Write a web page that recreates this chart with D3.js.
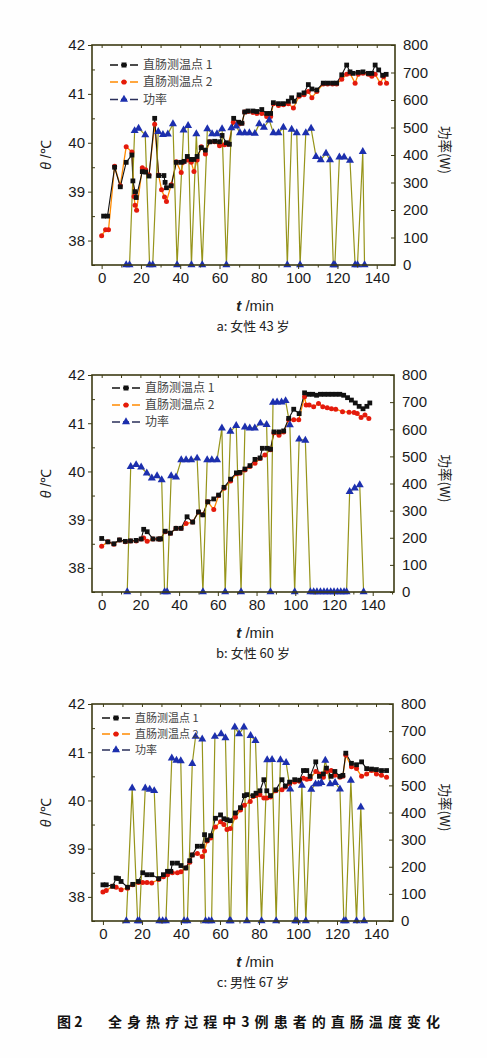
<!DOCTYPE html>
<html><head><meta charset="utf-8">
<script src="https://cdn.jsdelivr.net/npm/d3@7"></script>
<style>body{margin:0;background:#fff}svg{display:block}</style>
</head><body><svg id="c" width="487" height="1058"></svg>
<script>
// ---------- data (time in min, temperature in °C, power in W) ----------
const tempTicks = [38, 39, 40, 41, 42];
const powerTicks = [0, 100, 200, 300, 400, 500, 600, 700, 800];
const timeTicks = [0, 20, 40, 60, 80, 100, 120, 140];
const legendNames = ["直肠测温点 1", "直肠测温点 2", "功率"];
const captions = ["a: 女性 43 岁", "b: 女性 60 岁", "c: 男性 67 岁"];

const aProbe1 = [[1,38.5],[3,38.5],[6.6,39.5],[9.5,39.1],[12.5,39.6],[15.4,39.75],[15.9,39.22],[17,39.0],[17.6,38.88],[20.7,39.41],[22.4,39.4],[24.1,39.32],[27,40.5],[29,39.33],[31.7,39.33],[32.3,39.19],[33,39.08],[35.4,39.12],[38,39.6],[40.5,39.6],[42,39.62],[43.6,39.72],[45.6,39.66],[47,39.66],[48.6,39.72],[50.7,39.9],[52.8,39.85],[55,40.02],[57.5,40.03],[60,40.02],[61.3,40.15],[63.5,40.0],[65,39.97],[67.2,40.5],[69.7,40.42],[71.4,40.4],[72.8,40.63],[74.5,40.65],[77,40.65],[79,40.64],[81.5,40.68],[84,40.6],[86,40.6],[87.4,40.82],[90,40.8],[92.5,40.8],[95,40.85],[96.7,40.92],[98,40.85],[100.5,40.98],[103,41.02],[105.2,41.19],[107,41.1],[109.5,41.08],[112.8,41.22],[115,41.22],[117.5,41.22],[119.6,41.22],[122.2,41.39],[124.7,41.59],[126.4,41.45],[128,41.42],[130.6,41.44],[133,41.45],[135.7,41.42],[137.5,41.42],[139.2,41.59],[141,41.49],[143,41.38],[144.8,41.4]];
const aProbe2 = [[0,38.1],[2,38.22],[3.5,38.22],[6.6,39.52],[9.5,39.12],[12.5,39.92],[15.4,39.81],[16.5,38.9],[17,38.72],[17.8,38.62],[20.7,39.49],[22.4,39.45],[24.1,39.34],[27,40.38],[29,39.34],[30.5,39.04],[32,38.89],[33,38.8],[35.4,39.14],[38,39.61],[40.5,39.39],[41.5,39.6],[43.6,39.65],[45.6,39.6],[47,39.41],[48.6,39.65],[50.7,39.92],[52.8,39.77],[55,40.02],[57.5,40.02],[60,39.94],[62.5,39.96],[64.5,39.97],[67,40.42],[69.7,40.38],[71.4,40.4],[72.8,40.63],[74.5,40.64],[77,40.62],[79,40.6],[81.5,40.6],[84,40.54],[86,40.54],[87.4,40.8],[90,40.76],[92.5,40.78],[95,40.8],[97.6,40.71],[100.5,40.95],[103,40.98],[105.2,41.05],[107,40.92],[109.5,41.05],[112.8,41.2],[115,41.2],[117.5,41.2],[119.6,41.2],[122.2,41.3],[124.7,41.4],[126.4,41.42],[129,41.22],[130.6,41.4],[133,41.42],[135.7,41.4],[137.5,41.36],[139.2,41.4],[141.8,41.22],[143.5,41.35],[145,41.22]];
const aPower = [[12.5,0],[14.2,0],[16.8,488],[18.8,497],[22.2,473],[24.4,0],[26,0],[28.8,485],[31.2,474],[33.7,476],[36.3,513],[38.4,0],[41.7,490],[44,507],[45.7,0],[48.2,477],[51.2,0],[53.8,495],[56.2,477],[58.7,477],[61.3,495],[63.5,0],[66,498],[68.5,505],[70.4,480],[72.8,480],[75.2,480],[78,478],[80.2,513],[82.6,500],[85.3,527],[87.4,480],[90,480],[92.5,500],[94.5,0],[96.7,493],[99.3,480],[101,0],[103.9,480],[106.6,497],[109.1,394],[111.5,382],[114.2,406],[116.2,382],[117.9,0],[118.7,0],[121,392],[123.4,392],[126.4,380],[129,0],[130.2,0],[132.9,412],[133.8,0]];

const bProbe1 = [[0,38.61],[3.2,38.54],[6.3,38.5],[9.2,38.58],[12.2,38.55],[14.9,38.56],[17.8,38.57],[20.4,38.6],[21.7,38.8],[23.5,38.75],[26.5,38.6],[29.4,38.6],[30.4,38.6],[32.8,38.76],[35.5,38.72],[38.4,38.82],[41,38.82],[44.1,39.06],[47,38.95],[50,39.16],[52.2,39.1],[54.8,39.37],[57.9,39.43],[60.4,39.51],[63.2,39.67],[66.6,39.84],[69.6,39.97],[71.4,39.98],[74,40.05],[76.6,40.12],[79.2,40.25],[81.8,40.28],[83,40.48],[85.6,40.48],[87.2,40.46],[89,40.82],[91.6,40.82],[94,40.84],[96.6,41.1],[99.2,41.29],[102,41.2],[104.8,41.63],[107,41.6],[109,41.6],[111,41.58],[113,41.6],[115,41.6],[117,41.6],[119,41.6],[121,41.6],[123,41.6],[125,41.58],[127,41.53],[129,41.48],[131,41.42],[133,41.35],[135,41.3],[137,41.35],[138.5,41.42]];
const bProbe2 = [[0,38.45],[3.2,38.54],[6.3,38.49],[9.2,38.58],[12.2,38.54],[14.9,38.56],[17.8,38.56],[20.4,38.6],[21.7,38.62],[23.5,38.55],[26.5,38.6],[29.4,38.6],[30.4,38.6],[32.8,38.75],[35.5,38.72],[38.4,38.82],[41,38.82],[43.6,38.92],[47,38.95],[50,39.16],[52.2,39.1],[54.8,39.37],[57.9,39.21],[60.4,39.5],[63.2,39.65],[66.6,39.8],[69.6,39.95],[71.4,39.96],[74,40.03],[76.6,40.1],[79.2,40.17],[81.8,40.27],[84.3,40.34],[87.2,40.45],[89,40.8],[91.6,40.75],[94,40.82],[96.6,41.07],[99.2,41.07],[101.8,41.07],[104.8,41.55],[105.6,41.38],[107.2,41.38],[109.5,41.34],[112,41.41],[114.2,41.34],[116.5,41.32],[118.7,41.3],[120.9,41.29],[124.4,41.24],[127.8,41.23],[130.4,41.22],[132,41.2],[134,41.12],[136,41.17],[138,41.1]];
const bPower = [[13.2,0],[15,462],[17.8,469],[20.4,460],[23.3,438],[25.9,420],[28.6,428],[31,413],[32.5,0],[33.8,0],[35.9,428],[38.4,423],[41.1,487],[43.6,487],[46.2,487],[49.3,493],[52.3,0],[54.5,487],[56.9,487],[59.6,487],[62.1,604],[63.8,0],[66.5,592],[69.5,613],[72,0],[74,608],[76.5,604],[79.1,604],[82,622],[85.2,617],[87.2,0],[88.5,699],[90.6,700],[92.9,700],[95,705],[97.2,616],[99.7,0],[102,563],[105.2,559],[107.8,0],[109.5,0],[111.2,0],[113,0],[114.8,0],[116.5,0],[118.3,0],[120,0],[121.8,0],[123.5,0],[125.2,0],[126.5,0],[128.1,370],[130.7,383],[133.3,395],[135.3,0]];

const cProbe1 = [[0,38.25],[1.7,38.25],[5,38.22],[6.8,38.39],[8,38.38],[9.3,38.32],[12.6,38.2],[15.3,38.26],[18.2,38.32],[20.4,38.5],[22.6,38.46],[25,38.46],[28.6,38.38],[31,38.46],[33.1,38.53],[34.8,38.53],[35.6,38.7],[38.2,38.7],[40,38.65],[42.5,38.6],[44.5,38.75],[45.8,38.87],[48.4,39.05],[50.9,39.05],[52.1,39.29],[53.4,39.18],[55.2,39.27],[57.7,39.63],[60.3,39.7],[62,39.62],[63.6,39.6],[65.3,39.58],[67.9,39.74],[70.5,39.85],[72.5,40.1],[73.8,40.12],[77,40.1],[78.5,40.15],[80.5,40.2],[82.5,40.43],[84,40.2],[85.9,40.1],[88.6,40.22],[91.8,40.43],[93.5,40.3],[95.7,40.38],[98.3,40.43],[100.8,40.42],[102.8,40.62],[104.5,40.62],[106.2,40.5],[109.1,40.8],[111,40.5],[113,40.55],[114.6,40.67],[117,40.5],[118.9,40.6],[121.5,40.5],[123,40.52],[124.5,40.98],[127.4,40.77],[130,40.74],[132.6,40.8],[135.2,40.66],[137.7,40.65],[140.2,40.64],[142.8,40.62],[145.4,40.62]];
const cProbe2 = [[0,38.1],[1.7,38.13],[5,38.22],[6.8,38.2],[9.3,38.15],[12.6,38.18],[15.3,38.25],[18.2,38.3],[20.4,38.3],[22.6,38.3],[25,38.29],[28.6,38.36],[31,38.42],[33.1,38.46],[35.6,38.5],[38.2,38.5],[40,38.52],[42.5,38.6],[44.5,38.72],[45.8,38.87],[48.4,38.9],[50.9,38.84],[52.1,38.95],[53.4,39.16],[55.2,39.22],[57.7,39.45],[60.3,39.56],[62,39.5],[63.6,39.4],[65.3,39.42],[67.9,39.65],[70.5,39.8],[72.5,39.9],[75.5,39.98],[77,40.08],[78.5,40.1],[80.5,40.12],[82.5,40.05],[84,40.05],[85.9,40.07],[88.6,40.2],[91.8,40.22],[93.5,40.28],[95.7,40.34],[98.3,40.38],[100.8,40.4],[102.8,40.46],[104.5,40.44],[106.2,40.45],[109.1,40.6],[111,40.55],[113,40.48],[114.6,40.6],[117,40.62],[118.9,40.52],[121.5,40.48],[123,40.5],[124.5,40.94],[127.4,40.7],[130,40.66],[132.6,40.5],[135.2,40.55],[137.7,40.62],[140.2,40.55],[142.8,40.52],[145.4,40.48]];
const cPower = [[12,0],[15,490],[17.8,0],[18.7,0],[21.7,490],[24,485],[26.3,480],[28.9,0],[30.6,0],[32.3,0],[35.3,600],[37.7,592],[39.9,590],[41.6,0],[43.3,0],[45.8,580],[47.5,680],[50.9,670],[52.6,0],[54.3,0],[55.7,0],[57.4,680],[60.6,690],[62.8,675],[64.9,0],[65.5,0],[67.6,715],[69.8,690],[72.3,715],[73.8,0],[75.7,683],[78.2,665],[81.3,0],[84.2,594],[86.7,595],[88.8,0],[91,594],[93.9,584],[96,486],[98.6,0],[99.5,0],[102,500],[104,0],[106.8,485],[109,505],[110.5,505],[112,510],[114,592],[116.5,505],[119,510],[121.5,486],[123.5,0],[124.5,0],[127.1,518],[130,0],[132.2,420],[133.9,0]];

// ---------- layout ----------
const panels = [
  {top:45, bottom:265, left:92, right:395, xd:[-4.9,149.3], p1:aProbe1, p2:aProbe2, pw:aPower, cap:captions[0], lx:110, ly:[65,82,99.5], lfs:12},
  {top:375, bottom:592, left:92, right:394, xd:[-5,151], p1:bProbe1, p2:bProbe2, pw:bPower, cap:captions[1], lx:112, ly:[388,405,422], lfs:12},
  {top:704, bottom:921, left:92, right:393, xd:[-5.6,148.7], p1:cProbe1, p2:cProbe2, pw:cPower, cap:captions[2], lx:102, ly:[718,734,750], lfs:11}
];

const svg = d3.select("#c");
svg.append("rect").attr("width",487).attr("height",1058).attr("fill","#fefefe");
const NUM = "'Liberation Sans', Arial, sans-serif";
const CJK = "'Noto Sans CJK SC', sans-serif";
const FRAME = "#3d3b14";
const OLIVE = "#96941a";
const ORANGE = "#ff8a00";
const RED = "#e41a0c";
const BLUE = "#1c2fae";

panels.forEach(p => {
  const g = svg.append("g");
  const x = d3.scaleLinear().domain(p.xd).range([p.left, p.right]);
  const yT = d3.scaleLinear().domain([37.5, 42]).range([p.bottom, p.top]);
  const yP = d3.scaleLinear().domain([0, 800]).range([p.bottom, p.top]);

  const lineT = d3.line().x(d => x(d[0])).y(d => yT(d[1]));
  const lineP = d3.line().x(d => x(d[0])).y(d => yP(d[1]));

  g.append("path").datum(p.p2).attr("d", lineT).attr("fill","none").attr("stroke",ORANGE).attr("stroke-width",1.3);
  g.append("path").datum(p.p1).attr("d", lineT).attr("fill","none").attr("stroke","#111").attr("stroke-width",1.1);
  g.append("path").datum(p.pw).attr("d", lineP).attr("fill","none").attr("stroke",OLIVE).attr("stroke-width",1.2);

  g.selectAll(".m2").data(p.p2).enter().append("circle")
    .attr("cx", d => x(d[0])).attr("cy", d => yT(d[1])).attr("r", 2.5).attr("fill", RED);
  g.selectAll(".m1").data(p.p1).enter().append("rect")
    .attr("x", d => x(d[0]) - 2.4).attr("y", d => yT(d[1]) - 2.4).attr("width",4.8).attr("height",4.8).attr("fill","#111");
  const tri = d3.symbol().type(d3.symbolTriangle).size(28);
  g.selectAll(".mp").data(p.pw).enter().append("path")
    .attr("d", tri).attr("transform", d => `translate(${x(d[0])},${yP(d[1])})`).attr("fill", BLUE);

  const styleAxis = sel => {
    sel.select(".domain").remove();
    sel.selectAll("line").attr("stroke", FRAME).attr("stroke-width", 1);
    sel.selectAll("text").attr("font-family", NUM).attr("font-size", 15).attr("fill", "#1b1b1b");
  };
  g.append("g").attr("transform",`translate(${p.left},0)`)
    .call(d3.axisLeft(yT).tickValues(tempTicks).tickSize(4).tickPadding(3).tickFormat(d3.format("d"))).call(styleAxis);
  g.append("g").attr("transform",`translate(${p.left},0)`)
    .call(d3.axisRight(yT).tickValues([37.5,38.5,39.5,40.5,41.5]).tickSize(3).tickFormat("")).call(styleAxis);
  g.append("g").attr("transform",`translate(${p.right},0)`)
    .call(d3.axisRight(yP).tickValues(powerTicks).tickSize(-4).tickPadding(8)).call(styleAxis);
  g.append("g").attr("transform",`translate(0,${p.bottom})`)
    .call(d3.axisBottom(x).tickValues(timeTicks).tickSize(4).tickPadding(3)).call(styleAxis);
  g.append("g").attr("transform",`translate(0,${p.bottom})`)
    .call(d3.axisBottom(x).tickValues([10,30,50,70,90,110,130,150].filter(v=>v<=p.xd[1])).tickSize(2.5).tickFormat("")).call(styleAxis);
  g.append("g").attr("transform",`translate(0,${p.top})`)
    .call(d3.axisBottom(x).tickValues(d3.range(0,150,10)).tickSize(3).tickFormat("")).call(styleAxis);

  g.append("rect").attr("x",p.left).attr("y",p.top).attr("width",p.right-p.left).attr("height",p.bottom-p.top)
    .attr("fill","none").attr("stroke",FRAME).attr("stroke-width",1.6);

  const cy = (p.top + p.bottom) / 2;
  const yl = g.append("text").attr("transform",`translate(51,${cy}) rotate(-90)`).attr("text-anchor","middle")
    .attr("font-family",NUM).attr("font-size",14).attr("fill","#222");
  yl.append("tspan").attr("font-style","italic").text("θ");
  yl.append("tspan").text(" /℃");
  g.append("text").attr("transform",`translate(440,${cy - 5}) rotate(90)`).attr("text-anchor","middle")
    .attr("font-family",CJK).attr("font-size",13.5).attr("fill","#222").text("功率(W)");
  const xl = g.append("text").attr("x",255).attr("y",p.bottom + 46).attr("text-anchor","middle")
    .attr("font-family",NUM).attr("font-size",15).attr("fill","#222");
  xl.append("tspan").attr("font-style","italic").attr("font-weight","bold").text("t");
  xl.append("tspan").text(" /min");
  g.append("text").attr("x",253).attr("y",p.bottom + 66).attr("text-anchor","middle")
    .attr("font-family",CJK).attr("font-size",13).attr("fill","#222").text(p.cap);

  const lcols = [["#111","#111","sq"],[ORANGE,RED,"ci"],["#2a2f5a",BLUE,"tr"]];
  legendNames.forEach((name, i) => {
    const ly = p.ly[i];
    const [lc, mc, kind] = lcols[i];
    g.append("line").attr("x1",p.lx).attr("x2",p.lx+28).attr("y1",ly).attr("y2",ly).attr("stroke",lc).attr("stroke-width",1.3)
      .attr("stroke-dasharray", "8,3,6,3,8");
    const mx = p.lx + 14;
    if (kind === "sq") g.append("rect").attr("x",mx-2.5).attr("y",ly-2.5).attr("width",5).attr("height",5).attr("fill",mc);
    else if (kind === "ci") g.append("circle").attr("cx",mx).attr("cy",ly).attr("r",2.6).attr("fill",mc);
    else g.append("path").attr("d",tri).attr("transform",`translate(${mx},${ly})`).attr("fill",mc);
    g.append("text").attr("x",p.lx+33).attr("y",ly).attr("dy","0.35em")
      .attr("font-family",CJK).attr("font-size",p.lfs).attr("fill","#444").text(name);
  });
});

svg.append("text").attr("x",57).attr("y",1027).attr("font-family",CJK).attr("font-weight","bold")
  .attr("font-size",14).attr("fill","#111").text("图 2");
svg.append("text").attr("x",108).attr("y",1027).attr("font-family",CJK).attr("font-weight","bold")
  .attr("font-size",14).attr("fill","#111").attr("textLength",332).attr("lengthAdjust","spacing")
  .text("全身热疗过程中3例患者的直肠温度变化");
</script></body></html>
